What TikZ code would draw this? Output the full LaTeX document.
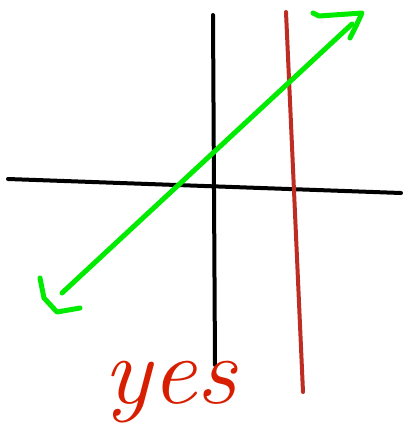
\documentclass[tikz,border=0pt]{standalone}
\usetikzlibrary{calc}
\definecolor{pen}{RGB}{0,235,0}
\definecolor{redline}{RGB}{190,45,35}
\definecolor{ink}{RGB}{215,30,0}
\tikzset{
  axis/.style={line width=4pt, black, line cap=round},
  redstroke/.style={line width=4pt, redline, line cap=round},
  greenstroke/.style={line width=5pt, pen, line cap=round, line join=round},
}
\begin{document}
\begin{tikzpicture}[x=1pt,y=-1pt]
\useasboundingbox (0,0) rectangle (403,429);
\coordinate (vt) at (213,15);
\coordinate (vb) at (215,365);
\coordinate (hl) at (8,179);
\coordinate (hr) at (401,193);
\coordinate (rt) at (286,12);
\coordinate (rb) at (303,392);
\coordinate (gb) at (62,293);
\coordinate (gt) at (352,24);
\draw[axis] (vt) -- (vb);
\draw[axis] (hl) -- (hr);
\draw[redstroke] (rt) -- (rb);
\draw[greenstroke] (gb) -- (gt);
\draw[greenstroke] (313,13) -- (319,16) -- (348,14) -- (362,13) -- (356,26) -- (350,38);
\draw[greenstroke] (40,278) -- (44,298) -- (57,312) -- (80,308);
\node[ink, font=\fontsize{96}{96}\selectfont\itshape, inner sep=0pt, xscale=1.05] (yes) at (170,392) {yes};
\end{tikzpicture}
\end{document}
